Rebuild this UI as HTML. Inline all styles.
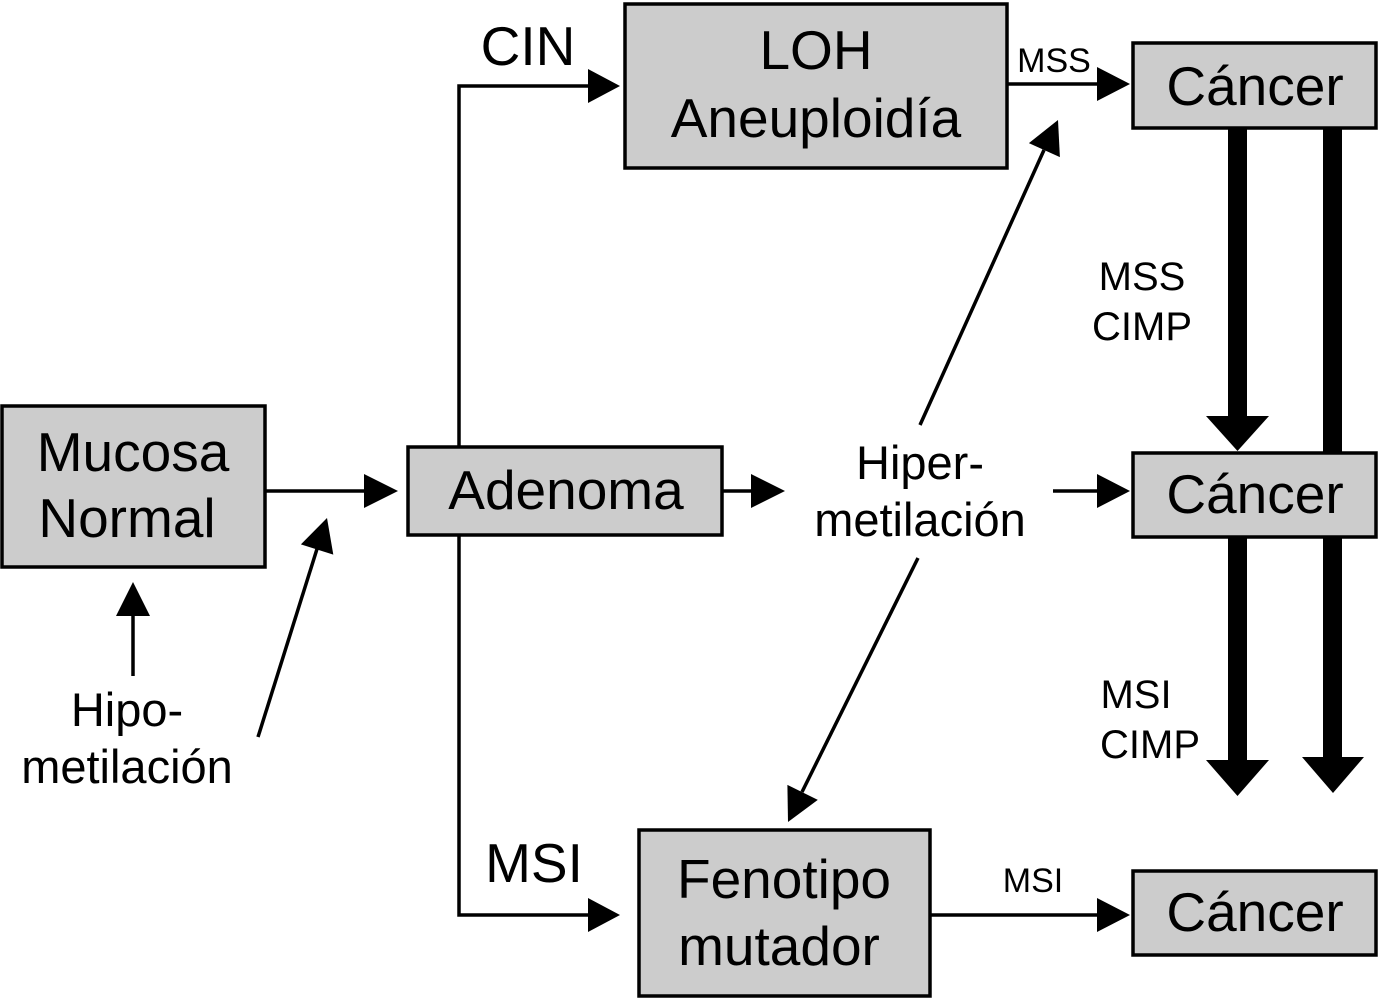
<!DOCTYPE html>
<html><head><meta charset="utf-8"><style>
html,body{margin:0;padding:0;background:#fff;}
svg{display:block;}
text{font-family:"Liberation Sans",Arial,sans-serif;fill:#000;}
</style></head><body>
<svg width="1378" height="999" viewBox="0 0 1378 999" xmlns="http://www.w3.org/2000/svg">
<g fill="#cccccc" stroke="#000" stroke-width="3.5">
<rect x="625" y="4" width="382" height="164"/>
<rect x="1133" y="43" width="243" height="85"/>
<rect x="1133" y="453" width="243" height="84"/>
<rect x="1133" y="871" width="243" height="84"/>
<rect x="2" y="406" width="263" height="161"/>
<rect x="408" y="447" width="314" height="88"/>
<rect x="639" y="830" width="291" height="166"/>
</g>
<g stroke="#000" stroke-width="3.5" fill="none">
<polyline points="459,446 459,86 592,86"/>
<polyline points="459,535 459,915 592,915"/>
<line x1="265" y1="491" x2="366" y2="491"/>
<line x1="133" y1="676" x2="133" y2="614"/>
<line x1="258" y1="737" x2="317" y2="549"/>
<line x1="722" y1="491" x2="752" y2="491"/>
<line x1="1053" y1="491" x2="1098" y2="491"/>
<line x1="1007" y1="84" x2="1098" y2="84"/>
<line x1="930" y1="915" x2="1098" y2="915"/>
<line x1="920" y1="425" x2="1044" y2="150"/>
<line x1="918" y1="558" x2="802" y2="792"/>
</g>
<g fill="#000">
<polygon points="620,86 588,69 588,103"/>
<polygon points="620,915 588,898 588,932"/>
<polygon points="398,491 364,474 364,508"/>
<polygon points="133,582 116,616 150,616"/>
<polygon points="327,518 333.3,554.6 300.9,544.4"/>
<polygon points="785,491 751,474 751,508"/>
<polygon points="1130,491 1097,474 1097,508"/>
<polygon points="1130,84 1097,67 1097,101"/>
<polygon points="1130,915 1097,898 1097,932"/>
<polygon points="1058,120 1059.9,157.1 1028.9,143.1"/>
<polygon points="788,822 817.8,799.9 787.4,784.9"/>
<rect x="1228" y="128" width="19" height="290"/>
<polygon points="1206,416 1269,416 1237.5,451"/>
<rect x="1323" y="128" width="19" height="325"/>
<rect x="1228" y="537" width="19" height="225"/>
<polygon points="1206,760 1269,760 1237.5,796"/>
<rect x="1323" y="537" width="19" height="222"/>
<polygon points="1302,757 1364,757 1333,793"/>
</g>
<g font-size="55" text-anchor="middle">
<text x="816" y="69">LOH</text>
<text x="816" y="137">Aneuploidía</text>
<text x="1255" y="105">Cáncer</text>
<text x="1255" y="513">Cáncer</text>
<text x="1255" y="931">Cáncer</text>
<text x="133" y="471">Mucosa</text>
<text x="127" y="537">Normal</text>
<text x="566" y="509">Adenoma</text>
<text x="784" y="898">Fenotipo</text>
<text x="779" y="965">mutador</text>
<text x="528" y="65">CIN</text>
<text x="534" y="882">MSI</text>
</g>
<g font-size="47" text-anchor="middle">
<text x="920" y="479">Hiper-</text>
<text x="920" y="536">metilación</text>
<text x="127" y="726">Hipo-</text>
<text x="127" y="783">metilación</text>
</g>
<g font-size="40" text-anchor="middle">
<text x="1142" y="290">MSS</text>
<text x="1142" y="340">CIMP</text>
<text x="1136" y="708">MSI</text>
<text x="1150" y="758">CIMP</text>
</g>
<g font-size="34" text-anchor="middle">
<text x="1054" y="72">MSS</text>
<text x="1033" y="892">MSI</text>
</g>
</svg>
</body></html>
